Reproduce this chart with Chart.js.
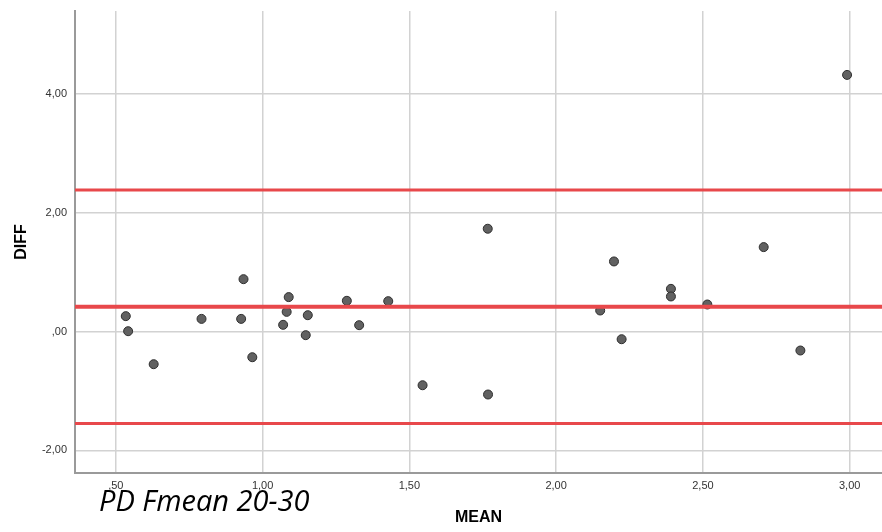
<!DOCTYPE html>
<html lang="en">
<head>
    <meta charset="UTF-8">
    <title>Bland-Altman PD Fmean 20-30</title>
    <script src="https://cdn.jsdelivr.net/npm/chart.js"></script>
    <style>
        html, body {
            margin: 0;
            padding: 0;
            background: #ffffff;
        }
        .wrap {
            position: relative;
            width: 882px;
            height: 532px;
        }
        .caption {
            position: absolute;
            left: 99px;
            top: 480px;
            font-family: "Open Sans", sans-serif;
            font-style: italic;
            font-size: 29px;
            color: #000;
            white-space: nowrap;
            z-index: 2;
        }
    </style>
</head>
<body>

<div class="wrap">
    <canvas id="baChart" width="882" height="532"></canvas>
    <div class="caption">PD Fmean 20-30</div>
</div>

<script>
    // points
    const meanValues = [0.534, 0.542, 0.629, 0.792, 0.927, 0.935, 0.965, 1.070, 1.082, 1.089,
                        1.147, 1.154, 1.287, 1.329, 1.428, 1.545, 1.767, 1.768, 2.150, 2.197,
                        2.223, 2.391, 2.391, 2.515, 2.707, 2.832, 2.991];
    const diffValues = [0.258, 0.005, -0.55, 0.212, 0.212, 0.88, -0.433, 0.112, 0.33, 0.578,
                        -0.062, 0.274, 0.516, 0.106, 0.51, -0.904, 1.728, -1.06, 0.353, 1.178,
                        -0.13, 0.717, 0.589, 0.454, 1.419, -0.32, 4.315];

    // mean difference and limits of agreement
    const refLines = [2.379, 0.414, -1.549];
    const refWidths = [3, 4, 3];

    const xRange = [0.361, 3.11];
    const yRange = [-2.38, 5.39];
    const xTicks = [0.5, 1.0, 1.5, 2.0, 2.5, 3.0];
    const yTicks = [-2, 0, 2, 4];

    function fmt(v) {
        let s = Math.abs(v).toFixed(2).replace('.', ',');
        if (s.startsWith('0')) s = s.substring(1);
        return (v < 0 ? '-' : '') + s;
    }

    const points = meanValues.map((m, i) => ({ x: m, y: diffValues[i] }));

    const lineSets = refLines.map((v, i) => ({
        type: 'line',
        data: [{ x: xRange[0], y: v }, { x: xRange[1], y: v }],
        borderColor: '#e8484b',
        borderWidth: refWidths[i],
        pointRadius: 0,
        fill: false,
        order: 0
    }));

    new Chart(document.getElementById('baChart'), {
        type: 'scatter',
        data: {
            datasets: [{
                data: points,
                backgroundColor: '#616161',
                borderColor: '#2e2e2e',
                borderWidth: 1,
                pointRadius: 4.5,
                order: 1
            }].concat(lineSets)
        },
        options: {
            responsive: false,
            animation: false,
            layout: { autoPadding: false, padding: { top: 11, left: 0, right: 0, bottom: 0 } },
            plugins: {
                legend: { display: false },
                tooltip: { enabled: false }
            },
            scales: {
                x: {
                    type: 'linear',
                    min: xRange[0],
                    max: xRange[1],
                    afterBuildTicks: s => { s.ticks = xTicks.map(v => ({ value: v })); },
                    afterFit: s => { s.height = 59; s.paddingLeft = 0; s.paddingRight = 0; },
                    grid: { color: '#d2d2d2', lineWidth: 1.5, drawTicks: false },
                    border: { color: '#9a9a9a', width: 2 },
                    ticks: {
                        padding: 6,
                        color: '#333',
                        font: { family: 'Liberation Sans, Arial', size: 11 },
                        maxRotation: 0,
                        callback: v => fmt(v)
                    },
                    title: {
                        display: true,
                        text: 'MEAN',
                        color: '#000',
                        font: { family: 'Liberation Sans, Arial', size: 16, weight: 'bold' },
                        padding: { top: 0, bottom: 5 }
                    }
                },
                y: {
                    type: 'linear',
                    min: yRange[0],
                    max: yRange[1],
                    afterBuildTicks: s => { s.ticks = yTicks.map(v => ({ value: v })); },
                    afterFit: s => { s.width = 75; s.paddingTop = 0; s.paddingBottom = 0; },
                    grid: { color: '#d2d2d2', lineWidth: 1.5, drawTicks: false },
                    border: { color: '#9a9a9a', width: 2 },
                    ticks: {
                        padding: 8,
                        color: '#333',
                        font: { family: 'Liberation Sans, Arial', size: 11 },
                        callback: v => fmt(v)
                    },
                    title: {
                        display: true,
                        text: 'DIFF',
                        color: '#000',
                        font: { family: 'Liberation Sans, Arial', size: 16, weight: 'bold' },
                        padding: { top: 12, bottom: 0 }
                    }
                }
            }
        }
    });
</script>

</body>
</html>
